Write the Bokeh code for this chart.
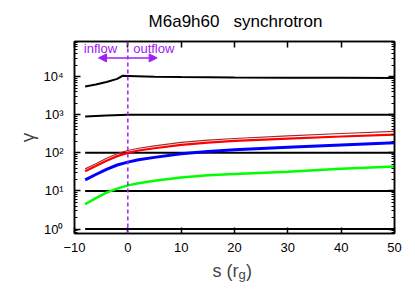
from bokeh.plotting import figure
from bokeh.layouts import column
from bokeh.models import (Range1d, LogAxis, LinearAxis, Label, Arrow, NormalHead,
                          Span, FixedTicker, LogTicker)
from bokeh.embed import file_html
from bokeh.resources import INLINE

# ---- data ----
s_curve = [-8, -6, -4, -2, 0, 2, 5, 10, 15, 20, 30, 40, 50]
gamma_red = [33, 45, 62, 82, 100, 115, 132, 162, 185, 205, 235, 268, 300]
gamma_brown = [38, 52, 72, 95, 115, 132, 152, 188, 215, 238, 278, 322, 365]
gamma_blue = [19.5, 27, 37, 48, 57, 66, 76, 95, 108, 120, 140, 160, 183]
gamma_green = [4.5, 6.5, 9, 11.5, 14, 16, 18.5, 22.5, 26, 28, 32, 38, 44]

s_hi = [-8, -6, -4, -2, -1, 0, 5, 10, 20, 30, 40, 50]
gamma_hi = [5500, 6200, 7200, 8700, 10500, 10400, 9900, 9700, 9500, 9400, 9300, 9200]
s_1e3 = [-8, -4, 0, 50]
gamma_1e3 = [900, 950, 1000, 1000]
s_flat = [-8, 50]
gamma_levels = [100, 10, 1]

x_ticks = [-10, 0, 10, 20, 30, 40, 50]
y_ticks = [1, 10, 100, 1000, 10000]
y_tick_labels = ["10\u2070", "10\u00b9", "10\u00b2", "10\u00b3", "10\u2074"]

title_text = "M6a9h60\u00a0\u00a0\u00a0synchrotron"
PURPLE = "#a020f0"
FONT = "Liberation Sans"

p = figure(width=415, height=227, output_backend="svg", toolbar_location=None,
           y_axis_type="log", x_range=Range1d(-10, 50),
           y_range=Range1d(10 ** -0.116, 10 ** 4.921),
           min_border_left=74, min_border_right=21, min_border_top=10,
           min_border_bottom=25)
p.title.visible = False
p.grid.visible = False
p.background_fill_color = "white"
p.border_fill_color = "white"
p.outline_line_color = "black"
p.outline_line_width = 1.5

# axes styling
xa = p.xaxis[0]
xa.ticker = FixedTicker(ticks=x_ticks)
xa.major_tick_in = 6
xa.major_tick_out = 0
xa.minor_tick_in = 0
xa.minor_tick_out = 0
xa.major_label_standoff = 9
xa.major_label_text_font = FONT
xa.major_label_text_font_size = "13px"
xa.major_label_text_color = "black"
xa.axis_line_width = 1.5
xa.major_tick_line_width = 1.5

ya = p.yaxis[0]
ya.ticker = LogTicker(num_minor_ticks=10)
ya.major_label_overrides = {float(v): t for v, t in zip(y_ticks, y_tick_labels)}
ya.major_tick_in = 6
ya.major_tick_out = 0
ya.minor_tick_in = 3
ya.minor_tick_out = 0
ya.major_label_standoff = 11
ya.major_label_text_font = FONT
ya.major_label_text_font_size = "13px"
ya.major_label_text_color = "black"
ya.axis_label = "\u03b3"
ya.axis_label_text_font = FONT
ya.axis_label_text_font_size = "19px"
ya.axis_label_text_font_style = "normal"
ya.axis_label_standoff = 2
ya.axis_line_width = 1.5
ya.major_tick_line_width = 1.5

top = LinearAxis(ticker=FixedTicker(ticks=x_ticks), major_tick_in=6, major_tick_out=0,
                 minor_tick_in=0, minor_tick_out=0, major_label_text_font_size="1px",
                 major_label_text_color=None,
                 major_label_standoff=0, major_tick_line_width=1.5, axis_line_width=1.5)
p.add_layout(top, "above")
right = LogAxis(ticker=LogTicker(num_minor_ticks=10), major_tick_in=6, major_tick_out=0,
                minor_tick_in=3, minor_tick_out=0, major_label_text_font_size="1px",
                major_label_text_color=None,
                major_label_standoff=0, major_tick_line_width=1.5, axis_line_width=1.5)
p.add_layout(right, "right")

# black reference curves
p.line(s_hi, gamma_hi, line_color="black", line_width=2)
p.line(s_1e3, gamma_1e3, line_color="black", line_width=2)
for g in gamma_levels:
    p.line(s_flat, [g, g], line_color="black", line_width=2)

# coloured curves
p.line(s_curve, gamma_brown, line_color="#a52a2a", line_width=1.2)
p.line(s_curve, gamma_red, line_color="#ff0000", line_width=2.2)
p.line(s_curve, gamma_blue, line_color="#0000ff", line_width=3)
p.line(s_curve, gamma_green, line_color="#00ff00", line_width=2.5)

# inflow / outflow marker
p.add_layout(Span(location=0, dimension="height", line_color=PURPLE,
                  line_width=1.5, line_dash="4 3"))
arrow_y = 31000
p.add_layout(Arrow(x_start=0, y_start=arrow_y, x_end=-5.5, y_end=arrow_y,
                   line_color=PURPLE, line_width=1.5,
                   end=NormalHead(size=8, fill_color=PURPLE, line_color=PURPLE)))
p.add_layout(Arrow(x_start=0, y_start=arrow_y, x_end=5.5, y_end=arrow_y,
                   line_color=PURPLE, line_width=1.5,
                   end=NormalHead(size=8, fill_color=PURPLE, line_color=PURPLE)))
p.add_layout(Label(x=-8.25, y=55000, text="inflow", text_color=PURPLE,
                   text_font=FONT, text_font_size="13px", text_baseline="middle"))
p.add_layout(Label(x=1.0, y=55000, text="outflow", text_color=PURPLE,
                   text_font=FONT, text_font_size="13px", text_baseline="middle"))


def text_strip(h):
    f = figure(width=415, height=h, output_backend="svg", toolbar_location=None,
               x_range=Range1d(0, 320), y_range=Range1d(0, h), min_border=0)
    f.axis.visible = False
    f.grid.visible = False
    f.outline_line_color = None
    f.title.visible = False
    return f


# title strip above the plot (frame aligned with the main plot's frame)
head = text_strip(31)
head.add_layout(Label(x=161, y=10, text=title_text, text_align="center",
                      text_baseline="middle", text_font=FONT,
                      text_font_size="17px", text_color="black"))

# x axis label "s (r_g)" strip below the plot
foot = text_strip(33)
foot.add_layout(Label(x=138, y=21, text="s (r", text_baseline="alphabetic",
                      text_font=FONT, text_font_size="18px"))
foot.add_layout(Label(x=164, y=17, text="g", text_baseline="alphabetic",
                      text_font=FONT, text_font_size="13px"))
foot.add_layout(Label(x=171.5, y=21, text=")", text_baseline="alphabetic",
                      text_font=FONT, text_font_size="18px"))

layout = column(head, p, foot, spacing=0)
open("out.html", "w").write(file_html(layout, INLINE))
